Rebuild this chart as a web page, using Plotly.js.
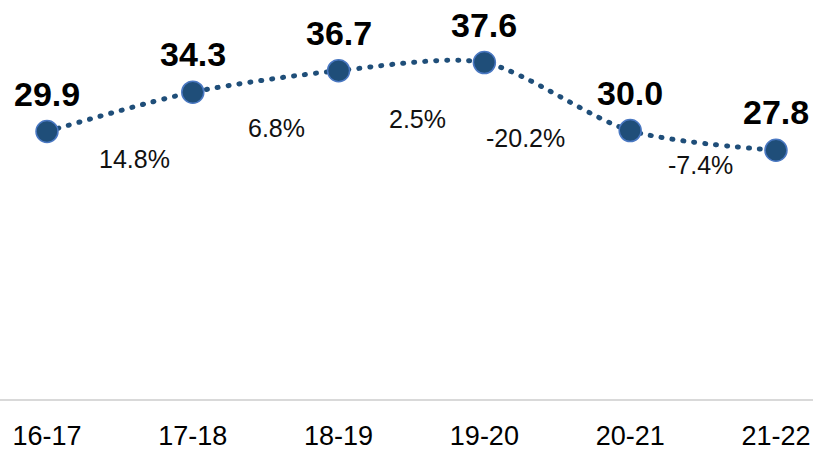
<!DOCTYPE html>
<html>
<head>
<meta charset="utf-8">
<script src="https://cdn.plot.ly/plotly-3.0.1.min.js"></script>
<style>html,body{margin:0;padding:0;background:#fff;}#chart{width:813px;height:451px;}</style>
</head>
<body>
<div id="chart"></div>
<script>
// ---- data ----
const categories = ["16-17", "17-18", "18-19", "19-20", "20-21", "21-22"];
const values = [29.9, 34.3, 36.7, 37.6, 30.0, 27.8];
const changeLabels = ["14.8%", "6.8%", "2.5%", "-20.2%", "-7.4%"];

// ---- label placement (pixel nudges, not data) ----
const pctShiftX = [15, 11, 6, -32, -3];
const pctShiftY = [-47, -47, -52, -41, -25];

const lineColor = "#1f4e79";
const bodyFont = "Liberation Sans, Arial, sans-serif";

const trace = {
  x: categories,
  y: values,
  type: "scatter",
  mode: "lines+markers",
  line: {shape: "spline", smoothing: 0.8, color: lineColor, width: 5, dash: "1px,10px"},
  marker: {size: 22, color: lineColor, line: {color: "#4a78c2", width: 1.5}},
  hoverinfo: "skip",
  cliponaxis: false
};

const annotations = [];
categories.forEach((c, i) => {
  annotations.push({
    x: i, y: values[i], xref: "x", yref: "y",
    text: "<b>" + values[i].toFixed(1) + "</b>",
    showarrow: false, yshift: 38, xanchor: "center", yanchor: "middle",
    font: {family: bodyFont, size: 34, color: "#000"}
  });
});
changeLabels.forEach((t, i) => {
  annotations.push({
    x: i + 0.5, y: (values[i] + values[i + 1]) / 2, xref: "x", yref: "y",
    text: t, showarrow: false,
    xshift: pctShiftX[i], yshift: pctShiftY[i], xanchor: "center", yanchor: "middle",
    font: {family: bodyFont, size: 25, color: "#111"}
  });
});

const layout = {
  width: 813, height: 451,
  margin: {l: 0, r: 0, t: 0, b: 52, pad: 0},
  paper_bgcolor: "#fff", plot_bgcolor: "#fff",
  showlegend: false,
  xaxis: {
    type: "category", range: [-0.3224, 5.254],
    showgrid: false, zeroline: false,
    showline: true, linecolor: "#d9d9d9", linewidth: 1.5,
    ticks: "", ticklabelstandoff: 12,
    tickfont: {family: bodyFont, size: 27, color: "#000"}
  },
  yaxis: {
    range: [0, 44.6], visible: false, showgrid: false, zeroline: false
  },
  annotations: annotations
};

Plotly.newPlot("chart", [trace], layout, {staticPlot: true, displayModeBar: false}).then(() => {
  document.querySelectorAll("#chart path.js-line").forEach(p => {
    p.style.strokeLinecap = "round";
  });
});
</script>
</body>
</html>
